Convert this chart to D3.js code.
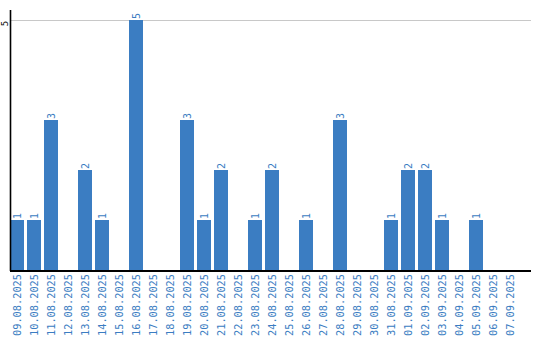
<!DOCTYPE html>
<html><head><meta charset="utf-8">
<script src="https://cdn.jsdelivr.net/npm/d3@7"></script>
<style>body{margin:0;background:#fff}svg{display:block}text{font-family:"DejaVu Sans Mono",monospace}</style>
</head><body>
<svg id="c" width="540" height="340"></svg>
<script>
const dates = ["09.08.2025","10.08.2025","11.08.2025","12.08.2025","13.08.2025","14.08.2025","15.08.2025","16.08.2025","17.08.2025","18.08.2025","19.08.2025","20.08.2025","21.08.2025","22.08.2025","23.08.2025","24.08.2025","25.08.2025","26.08.2025","27.08.2025","28.08.2025","29.08.2025","30.08.2025","31.08.2025","01.09.2025","02.09.2025","03.09.2025","04.09.2025","05.09.2025","06.09.2025","07.09.2025"];
const counts = [1,1,3,0,2,1,0,5,0,0,3,1,2,0,1,2,0,1,0,3,0,0,1,2,2,1,0,1,0,0];
const yTicks = [5];

const svg = d3.select("#c");
const left = 10, baseY = 270, topY = 20;
const x = d3.scaleBand().domain(dates).range([left, left + 30*17 - 3]).paddingInner(3/17).paddingOuter(0);
const y = d3.scaleLinear().domain([0,5]).range([baseY, topY]);
const blue = "#3b7dc2";

svg.selectAll("line.grid").data(yTicks).enter().append("line")
  .attr("x1", left).attr("x2", 531).attr("y1", d=>y(d)+0.5).attr("y2", d=>y(d)+0.5)
  .attr("stroke", "#c8c8c8").attr("stroke-width", 1);

const items = dates.map((d,i)=>({d, v:counts[i]})).filter(o=>o.v>0);

svg.selectAll("rect.bar").data(items).enter().append("rect")
  .attr("x", o=>x(o.d)).attr("width", x.bandwidth())
  .attr("y", o=>y(o.v)).attr("height", o=>baseY - y(o.v))
  .attr("fill", blue);

svg.selectAll("text.val").data(items).enter().append("text")
  .attr("transform", o=>`translate(${x(o.d)+x.bandwidth()/2+3.5},${y(o.v)-1}) rotate(-90)`)
  .attr("font-size", 10).attr("fill", blue).attr("text-anchor","start")
  .text(o=>o.v);

svg.append("line").attr("x1", left+0.5).attr("x2", left+0.5).attr("y1", 10).attr("y2", baseY+1)
  .attr("stroke","#000").attr("stroke-width",1.6);
svg.append("line").attr("x1", left).attr("x2", 531).attr("y1", baseY+1).attr("y2", baseY+1)
  .attr("stroke","#000").attr("stroke-width",2);

svg.selectAll("text.yt").data(yTicks).enter().append("text")
  .attr("transform", d=>`translate(7.5,${y(d)+3.5}) rotate(-90)`)
  .attr("text-anchor","middle").attr("font-size",9).attr("fill","#000").text(d=>d);

svg.selectAll("text.xl").data(dates).enter().append("text")
  .attr("transform", d=>`translate(${x(d)+x.bandwidth()/2+3.5},274) rotate(-90)`)
  .attr("text-anchor","end").attr("font-size",10.3).attr("fill",blue).text(d=>d);
</script>
</body></html>
